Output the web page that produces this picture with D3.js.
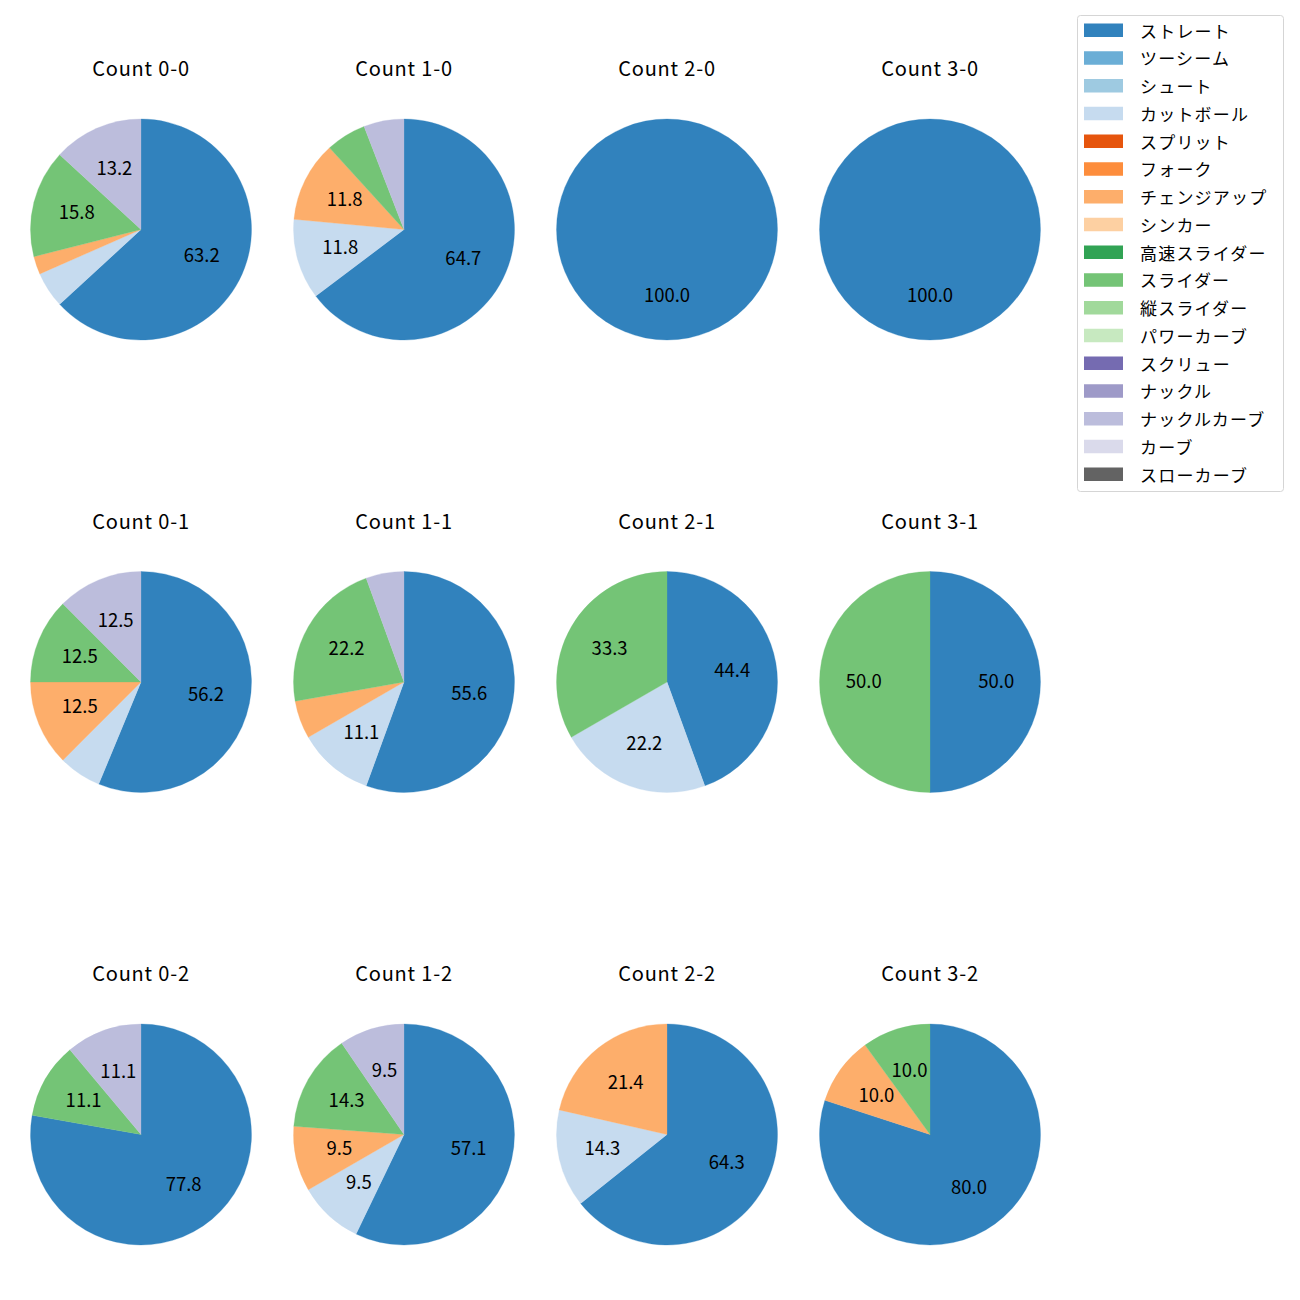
<!DOCTYPE html>
<html><head><meta charset="utf-8">
<script src="https://cdn.jsdelivr.net/npm/d3@7"></script>
<style>body{margin:0;background:#fff}svg{display:block}text{font-family:"Noto Sans CJK JP","Noto Sans",sans-serif}</style>
</head><body>
<script>
const pitchTypes = ["ストレート","ツーシーム","シュート","カットボール","スプリット","フォーク","チェンジアップ","シンカー","高速スライダー","スライダー","縦スライダー","パワーカーブ","スクリュー","ナックル","ナックルカーブ","カーブ","スローカーブ"];
const colors = ["#3182bd","#6baed6","#9ecae1","#c6dbef","#e6550d","#fd8d3c","#fdae6b","#fdd0a2","#31a354","#74c476","#a1d99b","#c7e9c0","#756bb1","#9e9ac8","#bcbddc","#dadaeb","#636363"];
const countTitles = ["Count 0-0","Count 1-0","Count 2-0","Count 3-0","Count 0-1","Count 1-1","Count 2-1","Count 3-1","Count 0-2","Count 1-2","Count 2-2","Count 3-2"];
// pitch counts per count, order: ストレート, カットボール, チェンジアップ, スライダー, ナックルカーブ
const shownTypes = ["ストレート","カットボール","チェンジアップ","スライダー","ナックルカーブ"];
const c00 = [24,2,1,6,5];
const c10 = [11,2,2,1,1];
const c20 = [1,0,0,0,0];
const c30 = [1,0,0,0,0];
const c01 = [9,1,2,2,2];
const c11 = [10,2,1,4,1];
const c21 = [4,2,0,3,0];
const c31 = [1,0,0,1,0];
const c02 = [7,0,0,1,1];
const c12 = [12,2,2,3,2];
const c22 = [9,2,3,0,0];
const c32 = [8,0,1,1,0];
const countData = [c00,c10,c20,c30,c01,c11,c21,c31,c02,c12,c22,c32];

function fmt(p){
  const v = p*10; const f = Math.floor(v);
  let r;
  if (Math.abs(v - f - 0.5) < 1e-9) r = (f % 2 === 0) ? f : f+1; else r = Math.round(v);
  return (r/10).toFixed(1);
}

const W=1300,H=1300;
const svg = d3.select("body").append("svg").attr("width",W).attr("height",H);
const colX = [141,404,667,930];
const rowY = [229.5,682,1134.5];
const R = 110.5;
const color = d3.scaleOrdinal().domain(pitchTypes).range(colors);

const pie = d3.pie().sort(null).value(d=>d.v).startAngle(0).endAngle(2*Math.PI);
const arc = d3.arc().innerRadius(0).outerRadius(R);

countData.forEach((arr,i)=>{
  const cx = colX[i%4], cy = rowY[Math.floor(i/4)];
  const g = svg.append("g").attr("transform",`translate(${cx},${cy})`);
  const total = d3.sum(arr);
  const data = shownTypes.map((t,k)=>({t, v:arr[k]})).filter(d=>d.v>0);
  const arcs = pie(data);
  g.selectAll("path").data(arcs).join("path")
    .attr("d",arc).attr("fill",d=>color(d.data.t))
    .attr("stroke",d=>color(d.data.t)).attr("stroke-width",0.3);
  arcs.forEach(a=>{
    const pct = a.data.v/total*100;
    if (pct < 8) return;
    const m = (a.startAngle+a.endAngle)/2;
    const x = Math.sin(m)*R*0.6, y = -Math.cos(m)*R*0.6;
    g.append("text").attr("x",x).attr("y",y-2).attr("text-anchor","middle")
      .attr("dominant-baseline","central").attr("font-size",18.5).attr("fill","#000").text(fmt(pct));
  });
  svg.append("text").attr("x",cx).attr("y",cy-162).attr("text-anchor","middle")
    .attr("dominant-baseline","central").attr("font-size",20).attr("letter-spacing",0.8).attr("fill","#000").text(countTitles[i]);
});

// legend
const lg = svg.append("g");
lg.append("rect").attr("x",1077.5).attr("y",15.5).attr("width",206).attr("height",476).attr("rx",3)
  .attr("fill","#fff").attr("stroke","#d5d5d5").attr("stroke-width",1);
pitchTypes.forEach((t,k)=>{
  const y = 30 + k*27.75;
  lg.append("rect").attr("x",1084).attr("y",y-6.5).attr("width",39).attr("height",13.5).attr("fill",color(t));
  lg.append("text").attr("x",1140).attr("y",y).attr("dominant-baseline","central")
    .attr("font-size",17).attr("letter-spacing",1.2).attr("fill","#000").text(t);
});
</script>
</body></html>
